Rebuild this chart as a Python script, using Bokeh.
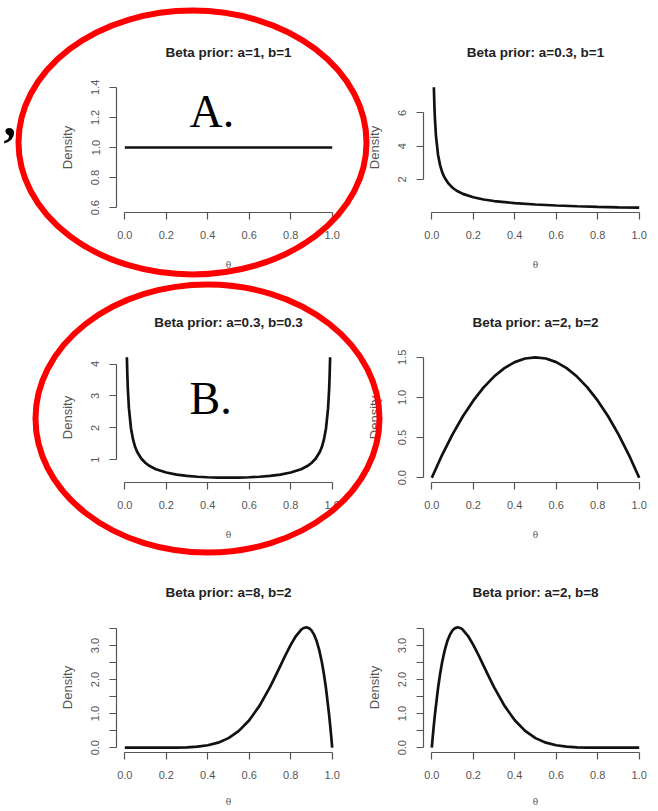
from bokeh.plotting import figure
from bokeh.layouts import column, row
from bokeh.models import Range1d, FixedTicker, PrintfTickFormatter
from bokeh.core.properties import value
from bokeh.embed import file_html
from bokeh.resources import INLINE

# ---------------- data ----------------
titles = ["Beta prior: a=1, b=1", "Beta prior: a=0.3, b=1",
          "Beta prior: a=0.3, b=0.3", "Beta prior: a=2, b=2",
          "Beta prior: a=8, b=2", "Beta prior: a=2, b=8"]

theta_a1b1 = [0.0, 1.0]
dens_a1b1 = [1.0, 1.0]

theta_a03b1 = [0.01, 0.0125, 0.015, 0.02, 0.03, 0.04, 0.05, 0.06, 0.08, 0.10, 0.12,
               0.15, 0.20, 0.25, 0.30, 0.40, 0.50, 0.60, 0.70, 0.80, 0.90, 1.00]
dens_a03b1 = [7.54, 6.45, 5.67, 4.64, 3.49, 2.86, 2.44, 2.15, 1.76, 1.50, 1.32,
              1.13, 0.93, 0.79, 0.70, 0.57, 0.49, 0.43, 0.385, 0.35, 0.32, 0.30]

theta_a03b03 = [0.01, 0.0125, 0.015, 0.02, 0.03, 0.04, 0.05, 0.06, 0.08, 0.10, 0.12,
                0.15, 0.20, 0.25, 0.30, 0.35, 0.40, 0.45, 0.50, 0.55, 0.60, 0.65,
                0.70, 0.75, 0.80, 0.85, 0.88, 0.90, 0.92, 0.94, 0.95, 0.96, 0.97,
                0.98, 0.985, 0.9875, 0.99]
dens_a03b03 = [4.21, 3.61, 3.18, 2.61, 1.98, 1.63, 1.40, 1.245, 1.033, 0.898, 0.803,
               0.704, 0.600, 0.537, 0.496, 0.469, 0.452, 0.442, 0.439, 0.442, 0.452, 0.469,
               0.496, 0.537, 0.600, 0.704, 0.803, 0.898, 1.033, 1.245, 1.40, 1.63, 1.98,
               2.61, 3.18, 3.61, 4.21]

theta_a2b2 = [0.0, 0.05, 0.10, 0.15, 0.20, 0.25, 0.30, 0.35, 0.40, 0.45, 0.50,
              0.55, 0.60, 0.65, 0.70, 0.75, 0.80, 0.85, 0.90, 0.95, 1.0]
dens_a2b2 = [0.0, 0.285, 0.54, 0.765, 0.96, 1.125, 1.26, 1.365, 1.44, 1.485, 1.50,
             1.485, 1.44, 1.365, 1.26, 1.125, 0.96, 0.765, 0.54, 0.285, 0.0]

theta_a8b2 = [0.0, 0.1, 0.2, 0.25, 0.3, 0.35, 0.4, 0.45, 0.5, 0.55, 0.6, 0.65, 0.7,
              0.725, 0.75, 0.775, 0.8, 0.825, 0.85, 0.86, 0.875, 0.89, 0.9, 0.9125,
              0.925, 0.9375, 0.95, 0.96, 0.97, 0.985, 0.99, 0.995, 1.0]
dens_a8b2 = [0.0, 0.0, 0.001, 0.003, 0.011, 0.030, 0.071, 0.148, 0.281, 0.493, 0.806,
             1.235, 1.779, 2.085, 2.403, 2.721, 3.020, 3.278, 3.462, 3.507, 3.534,
             3.503, 3.444, 3.319, 3.129, 2.864, 2.514, 2.164, 1.745, 0.972, 0.671,
             0.348, 0.0]

theta_a2b8 = [0.0, 0.005, 0.01, 0.015, 0.03, 0.04, 0.05, 0.0625, 0.075, 0.0875, 0.1,
              0.11, 0.125, 0.14, 0.15, 0.175, 0.2, 0.225, 0.25, 0.275, 0.3, 0.35, 0.4,
              0.45, 0.5, 0.55, 0.6, 0.65, 0.7, 0.75, 0.8, 0.9, 1.0]
dens_a2b8 = [0.0, 0.348, 0.671, 0.972, 1.745, 2.164, 2.514, 2.864, 3.129, 3.319, 3.444,
             3.503, 3.534, 3.507, 3.462, 3.278, 3.020, 2.721, 2.403, 2.085, 1.779, 1.235,
             0.806, 0.493, 0.281, 0.148, 0.071, 0.030, 0.011, 0.003, 0.001, 0.0, 0.0]

x_ticks = [0.0, 0.2, 0.4, 0.6, 0.8, 1.0]
y_ticks_a1b1 = [0.6, 0.8, 1.0, 1.2, 1.4]
y_ticks_a03b1 = [2, 4, 6]
y_ticks_a03b03 = [1, 2, 3, 4]
y_ticks_a2b2 = [0.0, 0.5, 1.0, 1.5]
y_ticks_skew = [0.0, 1.0, 2.0, 3.0]
y_minor_skew = [0.5, 1.5, 2.5, 3.5]

x_label = "θ"
y_label = "Density"
marks = ["A.", "B."]
stray_mark = ","

# ---------------- layout / style ----------------
SANS = "Liberation Sans"
AXC = "#555555"
PAGE_W, PAGE_H = 658, 811
COL_W = [360, 298]
ROW_H = [278, 270, 263]
BORDER_L = [116, 63]
BORDER_T = [82, 74, 74]
XLAB_STANDOFF = [18, 18, 15]
FW, FH = 224, 130
TITLE_ABOVE = 30


def padded(lo, hi):
    span = hi - lo
    return lo - 0.04 * span, hi + 0.04 * span


def panel(col, rw, xs, ys, yticks, yminor, yfmt, ylim_raw):
    bl, bt = BORDER_L[col], BORDER_T[rw]
    br = COL_W[col] - bl - FW
    bb = ROW_H[rw] - bt - FH
    ylo, yhi = padded(*ylim_raw)
    p = figure(width=COL_W[col], height=ROW_H[rw],
               x_range=Range1d(-0.04, 1.04), y_range=Range1d(ylo, yhi),
               output_backend="svg", toolbar_location=None, title=None,
               min_border_left=bl, min_border_right=br,
               min_border_top=bt, min_border_bottom=bb)
    p.grid.visible = False
    p.outline_line_color = None
    p.background_fill_color = "white"
    p.border_fill_color = "white"

    # x axis
    xa = p.xaxis[0]
    xa.ticker = FixedTicker(ticks=x_ticks, minor_ticks=[])
    xa.formatter = PrintfTickFormatter(format="%.1f")
    xa.bounds = (x_ticks[0], x_ticks[-1])
    xa.axis_line_color = AXC
    xa.axis_line_width = 1.2
    xa.major_tick_line_color = AXC
    xa.major_tick_line_width = 1.2
    xa.major_tick_in = 0
    xa.major_tick_out = 7
    xa.minor_tick_out = 0
    xa.minor_tick_in = 0
    xa.major_label_standoff = 11
    xa.major_label_text_font = SANS
    xa.major_label_text_font_size = "11px"
    xa.major_label_text_color = AXC
    xa.axis_label = x_label
    xa.axis_label_text_font = "DejaVu Serif"
    xa.axis_label_text_font_style = "normal"
    xa.axis_label_text_font_size = "9px"
    xa.axis_label_text_color = AXC
    xa.axis_label_standoff = XLAB_STANDOFF[rw]

    # y axis
    ya = p.yaxis[0]
    ya.ticker = FixedTicker(ticks=yticks, minor_ticks=yminor)
    ya.formatter = PrintfTickFormatter(format=yfmt)
    allt = sorted(list(yticks) + list(yminor))
    ya.bounds = (allt[0], allt[-1])
    ya.axis_line_color = AXC
    ya.axis_line_width = 1.2
    ya.major_tick_line_color = AXC
    ya.major_tick_line_width = 1.2
    ya.minor_tick_line_color = AXC
    ya.minor_tick_line_width = 1.2
    ya.major_tick_in = 0
    ya.major_tick_out = 7
    ya.minor_tick_in = 0
    ya.minor_tick_out = 7
    ya.major_label_orientation = "vertical"
    ya.major_label_standoff = 10
    ya.major_label_text_font = SANS
    ya.major_label_text_font_size = "11px"
    ya.major_label_text_color = AXC
    ya.axis_label = y_label
    ya.axis_label_text_font = SANS
    ya.axis_label_text_font_style = "normal"
    ya.axis_label_text_font_size = "13px"
    ya.axis_label_text_color = AXC
    ya.axis_label_standoff = 14

    p.line(xs, ys, line_color="#111111", line_width=2.7)
    return p


p1 = panel(0, 0, theta_a1b1, dens_a1b1, y_ticks_a1b1, [], "%.1f", (0.6, 1.4))
p2 = panel(1, 0, theta_a03b1, dens_a03b1, y_ticks_a03b1, [], "%d",
           (min(dens_a03b1), max(dens_a03b1)))
p3 = panel(0, 1, theta_a03b03, dens_a03b03, y_ticks_a03b03, [], "%d",
           (min(dens_a03b03), max(dens_a03b03)))
p4 = panel(1, 1, theta_a2b2, dens_a2b2, y_ticks_a2b2, [], "%.1f",
           (min(dens_a2b2), max(dens_a2b2)))
p5 = panel(0, 2, theta_a8b2, dens_a8b2, y_ticks_skew, y_minor_skew, "%.1f",
           (min(dens_a8b2), max(dens_a8b2)))
p6 = panel(1, 2, theta_a2b8, dens_a2b8, y_ticks_skew, y_minor_skew, "%.1f",
           (min(dens_a2b8), max(dens_a2b8)))

# ---------------- transparent overlay: titles and hand-drawn annotations ----------------
ov = figure(width=PAGE_W, height=PAGE_H, x_range=Range1d(0, PAGE_W), y_range=Range1d(PAGE_H, 0),
            output_backend="svg", toolbar_location=None, title=None,
            x_axis_location=None, y_axis_location=None,
            min_border=0, min_border_left=0, min_border_right=0,
            min_border_top=0, min_border_bottom=0,
            background_fill_color=None, border_fill_color=None, outline_line_color=None,
            styles={"position": "absolute", "left": "0px", "top": "0px", "z-index": "10",
                    "pointer-events": "none"})
ov.grid.visible = False

# panel titles, centred over each plotting frame
col_x0 = [0, COL_W[0]]
row_y0 = [0, ROW_H[0], ROW_H[0] + ROW_H[1]]
tx, ty = [], []
for k in range(6):
    c, r = k % 2, k // 2
    tx.append(col_x0[c] + BORDER_L[c] + FW / 2)
    ty.append(row_y0[r] + BORDER_T[r] - TITLE_ABOVE)
ov.text(x=tx, y=ty, text=titles, text_font=value(SANS), text_font_style="bold",
        text_font_size="13.5px", text_baseline="middle", text_align="center",
        text_color="#222222")

ov.ellipse(x=[192, 207], y=[142, 418], width=[348, 344], height=[264, 268],
           fill_color=None, line_color="#ff0000", line_width=6)
ov.text(x=[189, 189], y=[110.5, 397.5], text=marks, text_font=value("Liberation Serif"),
        text_font_size="46px", text_baseline="middle", text_align="left", text_color="#000000")
ov.text(x=[3], y=[118], text=[stray_mark], text_font=value("Liberation Serif"),
        text_font_style="bold", text_font_size="50px", text_baseline="middle",
        text_align="left", text_color="#000000")

grid = column(row(p1, p2), row(p3, p4), row(p5, p6))
layout = column(grid, ov, styles={"position": "relative"})
open("out.html", "w").write(file_html(layout, INLINE))
